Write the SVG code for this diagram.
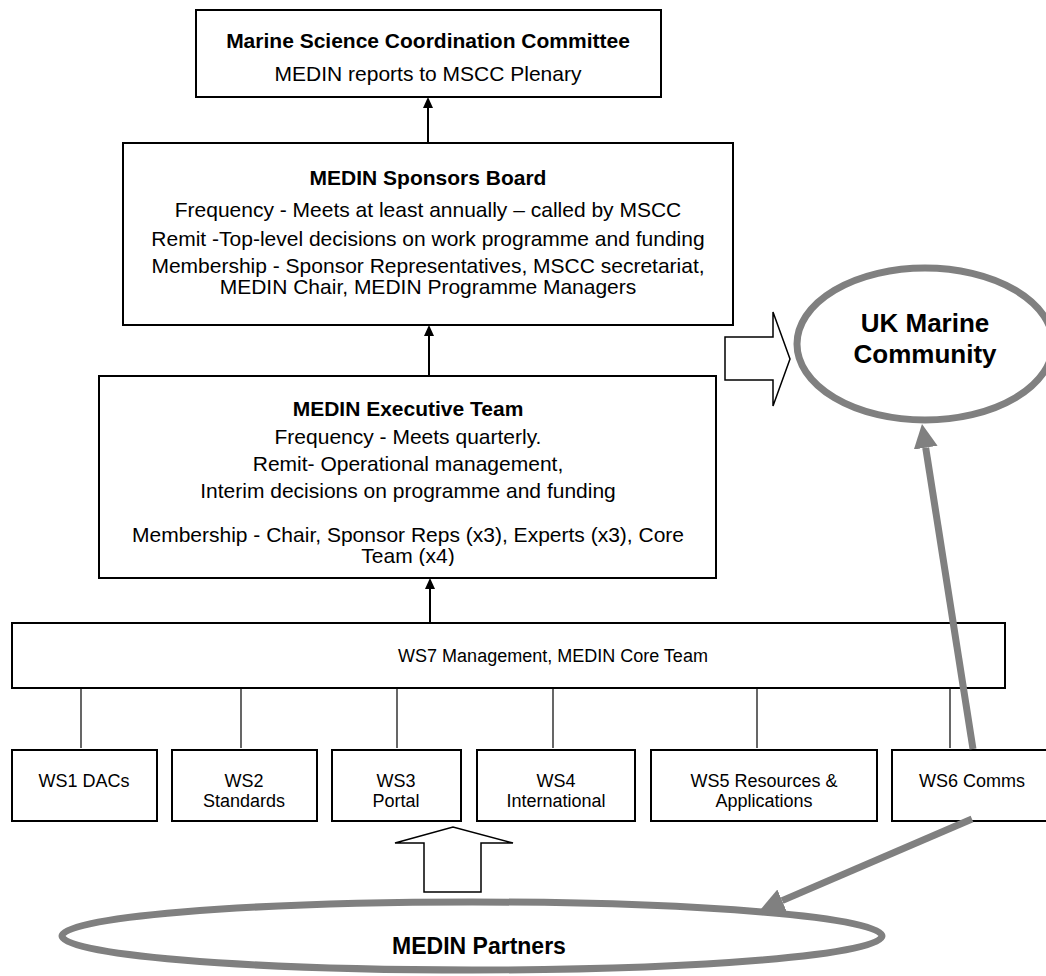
<svg xmlns="http://www.w3.org/2000/svg" width="1046" height="976" viewBox="0 0 1046 976">
  <defs>
    <style>
      .box { fill: #ffffff; stroke: #000000; stroke-width: 2; }
      .t { font-family: "Liberation Sans", Arial, sans-serif; font-size: 21px; fill: #000000; text-anchor: middle; }
      .tb { font-weight: bold; }
      .ws { font-family: "Liberation Sans", Arial, sans-serif; font-size: 18px; fill: #000000; text-anchor: middle; }
      .thin { stroke: #000000; stroke-width: 1.2; fill: none; }
      .blk { stroke: #000000; stroke-width: 2; fill: none; }
      .gray { stroke: #808080; stroke-width: 7; fill: none; }
      .hollow { fill: #ffffff; stroke: #000000; stroke-width: 1.5; stroke-linejoin: miter; }
      .oval { fill: #ffffff; stroke: #808080; stroke-width: 7; }
    </style>
    <marker id="ah" markerUnits="userSpaceOnUse" markerWidth="12" markerHeight="12" refX="0" refY="5" orient="auto">
      <path d="M0,0 L11,5 L0,10 z" fill="#000000"/>
    </marker>
    <marker id="gh" markerUnits="userSpaceOnUse" markerWidth="26" markerHeight="26" refX="0" refY="12" orient="auto">
      <path d="M0,0 L24,12 L0,24 z" fill="#808080"/>
    </marker>
    <clipPath id="clip3">
      <rect x="99" y="376" width="617" height="190"/>
    </clipPath>
  </defs>

  <g id="mscc">
    <rect class="box" x="196" y="10" width="465" height="87"/>
    <text class="t tb" x="428" y="48">Marine Science Coordination Committee</text>
    <text class="t" x="428" y="81">MEDIN reports to MSCC Plenary</text>
  </g>

  <g id="sponsors-board">
    <rect class="box" x="123" y="143" width="610" height="182"/>
    <text class="t tb" x="428" y="185">MEDIN Sponsors Board</text>
    <text class="t" x="428" y="217">Frequency - Meets at least annually – called by MSCC</text>
    <text class="t" x="428" y="246">Remit -Top-level decisions on work programme and funding</text>
    <text class="t" x="428" y="273">Membership - Sponsor Representatives, MSCC secretariat,</text>
    <text class="t" x="428" y="294">MEDIN Chair, MEDIN Programme Managers</text>
  </g>

  <g id="executive-team">
    <rect class="box" x="99" y="376" width="617" height="202"/>
    <g clip-path="url(#clip3)">
      <text class="t tb" x="408" y="416">MEDIN Executive Team</text>
      <text class="t" x="408" y="444">Frequency - Meets quarterly.</text>
      <text class="t" x="408" y="471">Remit- Operational management,</text>
      <text class="t" x="408" y="498">Interim decisions on programme and funding</text>
      <text class="t" x="408" y="542">Membership - Chair, Sponsor Reps (x3), Experts (x3), Core</text>
      <text class="t" x="408" y="563">Team (x4)</text>
    </g>
  </g>

  <g id="uk-marine-community">
    <ellipse class="oval" cx="925" cy="344" rx="128" ry="76"/>
    <text class="t tb" x="925" y="332" style="font-size:26px">UK Marine</text>
    <text class="t tb" x="925" y="363" style="font-size:26px">Community</text>
  </g>

  <g id="ws7">
    <rect class="box" x="12" y="623" width="993" height="65"/>
    <text class="ws" x="553" y="662">WS7 Management, MEDIN Core Team</text>
  </g>

  <g id="ws1">
    <rect class="box" x="12" y="750" width="145" height="71"/>
    <text class="ws" x="84" y="787">WS1 DACs</text>
  </g>
  <g id="ws2">
    <rect class="box" x="172" y="750" width="145" height="71"/>
    <text class="ws" x="244" y="787">WS2</text>
    <text class="ws" x="244" y="807">Standards</text>
  </g>
  <g id="ws3">
    <rect class="box" x="332" y="750" width="129" height="71"/>
    <text class="ws" x="396" y="787">WS3</text>
    <text class="ws" x="396" y="807">Portal</text>
  </g>
  <g id="ws4">
    <rect class="box" x="477" y="750" width="158" height="71"/>
    <text class="ws" x="556" y="787">WS4</text>
    <text class="ws" x="556" y="807">International</text>
  </g>
  <g id="ws5">
    <rect class="box" x="651" y="750" width="226" height="71"/>
    <text class="ws" x="764" y="787">WS5 Resources &amp;</text>
    <text class="ws" x="764" y="807">Applications</text>
  </g>
  <g id="ws6">
    <rect class="box" x="892" y="750" width="160" height="71"/>
    <text class="ws" x="972" y="787">WS6 Comms</text>
  </g>

  <g id="medin-partners">
    <ellipse class="oval" cx="472" cy="936" rx="410" ry="34"/>
    <text class="t tb" x="479" y="954" style="font-size:23px">MEDIN Partners</text>
  </g>

  <g id="connectors">
    <line class="blk" x1="428" y1="143" x2="428" y2="108" marker-end="url(#ah)"/>
    <line class="blk" x1="429" y1="376" x2="429" y2="336" marker-end="url(#ah)"/>
    <line class="blk" x1="430" y1="623" x2="430" y2="589" marker-end="url(#ah)"/>
    <line class="thin" x1="81" y1="688" x2="81" y2="748"/>
    <line class="thin" x1="241" y1="688" x2="241" y2="748"/>
    <line class="thin" x1="397" y1="688" x2="397" y2="748"/>
    <line class="thin" x1="553" y1="688" x2="553" y2="748"/>
    <line class="thin" x1="757" y1="688" x2="757" y2="748"/>
    <line class="thin" x1="950" y1="688" x2="950" y2="748"/>
    <path class="hollow" d="M725,337 L773,337 L773,312 L790,359 L773,406 L773,380 L725,380 Z"/>
    <path class="hollow" d="M424,892 L424,843 L395,843 L453,827 L513,843 L481,843 L481,892 Z"/>
    <line class="gray" x1="973" y1="749" x2="925.7" y2="447.7" marker-end="url(#gh)"/>
    <line class="gray" x1="972" y1="819" x2="782.1" y2="900.6" marker-end="url(#gh)"/>
  </g>
</svg>
